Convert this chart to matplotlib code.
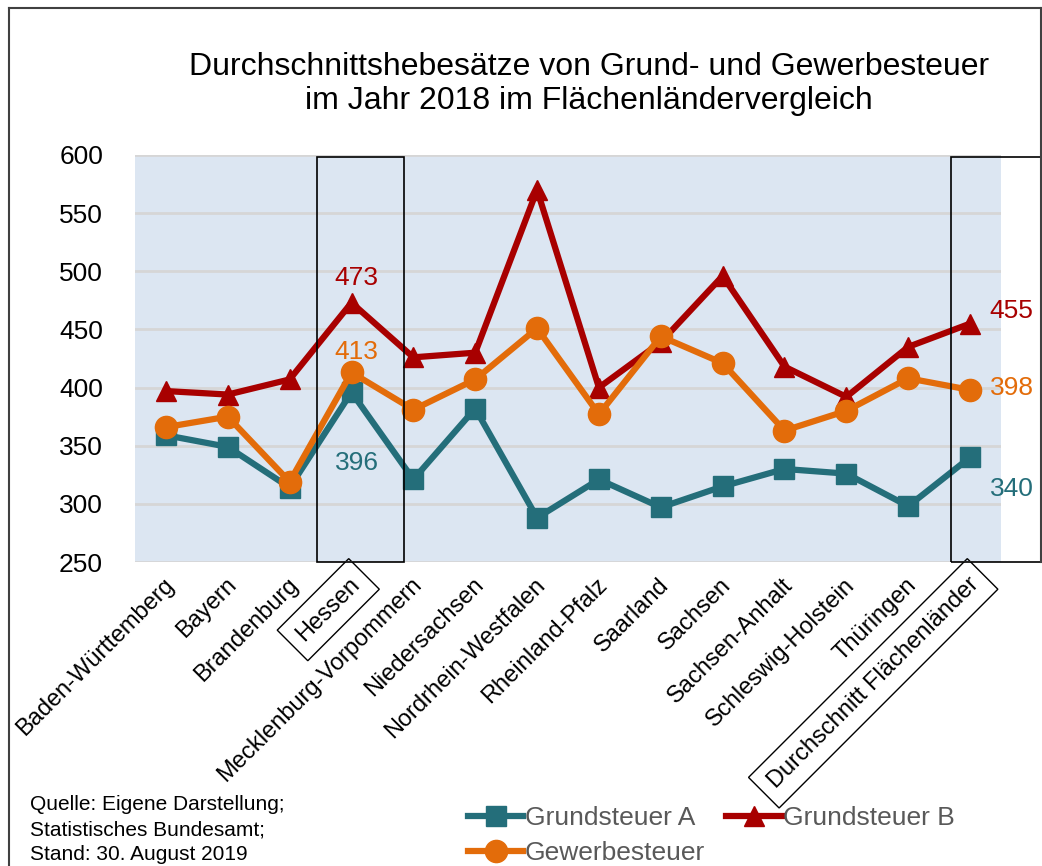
import matplotlib.pyplot as plt
from matplotlib.patches import Rectangle
from matplotlib.lines import Line2D
from matplotlib.transforms import ScaledTranslation

plt.rcParams['font.family'] = ['Liberation Sans', 'DejaVu Sans']

# Data
laender = ["Baden-Württemberg", "Bayern", "Brandenburg", "Hessen",
           "Mecklenburg-Vorpommern", "Niedersachsen", "Nordrhein-Westfalen",
           "Rheinland-Pfalz", "Saarland", "Sachsen", "Sachsen-Anhalt",
           "Schleswig-Holstein", "Thüringen", "Durchschnitt Flächenländer"]
grundsteuer_a = [359, 349, 314, 396, 321, 382, 288, 321, 297, 315, 330, 326, 298, 340]
grundsteuer_b = [397, 394, 407, 473, 426, 430, 570, 400, 439, 496, 418, 392, 435, 455]
gewerbesteuer = [366, 375, 319, 413, 381, 407, 451, 377, 444, 421, 363, 380, 408, 398]
yticks = [250, 300, 350, 400, 450, 500, 550, 600]

c_a = '#246E7A'
c_b = '#A80000'
c_g = '#E36C0A'

W, H = 1042, 866
fig = plt.figure(figsize=(W / 100, H / 100), dpi=100)
ax = fig.add_axes([135 / W, 1 - 562 / H, 866 / W, 407 / H])
ax.set_facecolor('#DCE6F2')

x = list(range(len(laender)))
ax.plot(x, grundsteuer_a, color=c_a, lw=4.5, marker='s', ms=14, zorder=3)
ax.plot(x, grundsteuer_b, color=c_b, lw=4.5, marker='^', ms=15, zorder=4)
ax.plot(x, gewerbesteuer, color=c_g, lw=4.5, marker='o', ms=16, zorder=5)

ax.set_xlim(-0.5, len(laender) - 0.5)
ax.set_ylim(250, 600)
ax.set_yticks(yticks)
ax.yaxis.grid(True, color='#D6D6D6', lw=2)
ax.set_axisbelow(True)
for s in ax.spines.values():
    s.set_visible(False)
ax.tick_params(axis='y', length=0, labelsize=19, pad=23)
ax.tick_params(axis='x', length=0, pad=14)
ax.set_xticks(x)
ax.set_xticklabels(laender, rotation=45, ha='right', va='center',
                   rotation_mode='anchor', fontsize=17)
shift = ScaledTranslation(5 / 100, 0, fig.dpi_scale_trans)
for lab in ax.get_xticklabels():
    lab.set_transform(lab.get_transform() + shift)
for i in (3, 13):
    ax.get_xticklabels()[i].set_bbox(dict(boxstyle='square,pad=0.45',
                                          fc='none', ec='black', lw=1))

# boxes around highlighted columns
ax.add_patch(Rectangle((2.45, 250), 1.4, 348, fill=False, ec='black', lw=1.2,
                       zorder=6, clip_on=False))
ax.add_patch(Rectangle((12.69, 250), 1.6, 348, fill=False, ec='black', lw=1.2,
                       zorder=6, clip_on=False))

# data labels
ax.annotate(str(grundsteuer_b[3]), (3, grundsteuer_b[3]), xytext=(3.6, 17.5),
            textcoords='offset points', ha='center', va='center', fontsize=19, color=c_b)
ax.annotate(str(gewerbesteuer[3]), (3, gewerbesteuer[3]), xytext=(3.6, 15),
            textcoords='offset points', ha='center', va='center', fontsize=19, color=c_g)
ax.annotate(str(grundsteuer_a[3]), (3, grundsteuer_a[3]), xytext=(3.6, -51),
            textcoords='offset points', ha='center', va='center', fontsize=19, color=c_a)
ax.annotate(str(grundsteuer_b[13]), (13, grundsteuer_b[13]), xytext=(14, 9),
            textcoords='offset points', ha='left', va='center', fontsize=19, color=c_b)
ax.annotate(str(gewerbesteuer[13]), (13, gewerbesteuer[13]), xytext=(14, 1.5),
            textcoords='offset points', ha='left', va='center', fontsize=19, color=c_g)
ax.annotate(str(grundsteuer_a[13]), (13, grundsteuer_a[13]), xytext=(14, -23),
            textcoords='offset points', ha='left', va='center', fontsize=19, color=c_a)

fig.text(589 / W, 1 - 84 / H,
         "Durchschnittshebesätze von Grund- und Gewerbesteuer\nim Jahr 2018 im Flächenländervergleich",
         ha='center', va='center', fontsize=23, linespacing=1.2)

fig.text(30 / W, 1 - 795 / H,
         "Quelle: Eigene Darstellung;\nStatistisches Bundesamt;\nStand: 30. August 2019",
         ha='left', va='top', fontsize=15, linespacing=1.4)

handles = [
    Line2D([], [], color=c_a, lw=4.5, marker='s', ms=14),
    Line2D([], [], color=c_g, lw=4.5, marker='o', ms=16),
    Line2D([], [], color=c_b, lw=4.5, marker='^', ms=15),
]
labels = ["Grundsteuer A", "Gewerbesteuer", "Grundsteuer B"]
leg = fig.legend(handles, labels, ncol=2, loc='upper left',
                 bbox_to_anchor=(468 / W, 1 - 806 / H), frameon=False,
                 fontsize=19, handlelength=2.1, handletextpad=0.05,
                 columnspacing=0.8, labelspacing=0.42, borderpad=0, borderaxespad=0)
for t in leg.get_texts():
    t.set_color('#595959')

# frame around the whole picture
fig.add_artist(Line2D([9 / W, 9 / W], [0, 1 - 8 / H], color='#404040', lw=1.5))
fig.add_artist(Line2D([9 / W, 1041 / W], [1 - 8 / H, 1 - 8 / H], color='#404040', lw=1.5))
fig.add_artist(Line2D([1041 / W, 1041 / W], [1 - 8 / H, 1 - 562 / H], color='#404040', lw=1.5))

fig.savefig('out.png', dpi=100)
